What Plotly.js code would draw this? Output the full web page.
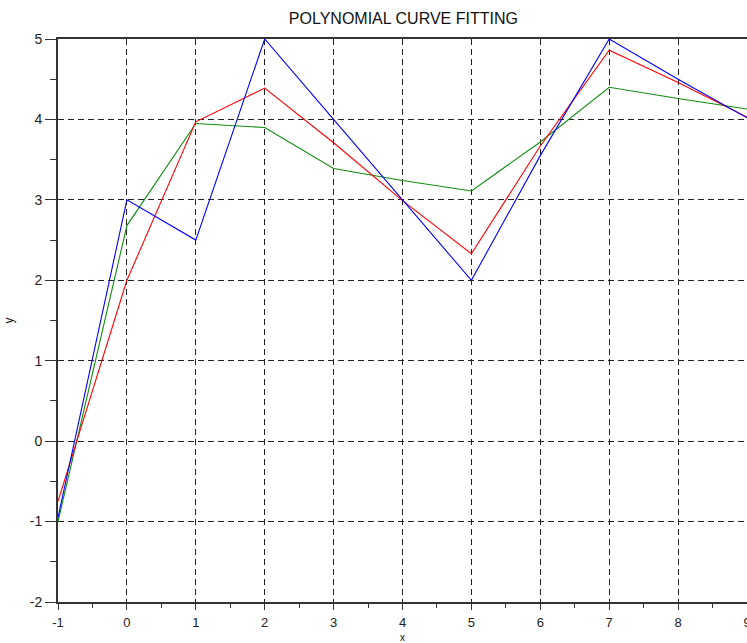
<!DOCTYPE html>
<html>
<head>
<meta charset="utf-8">
<script src="https://cdn.plot.ly/plotly-3.0.1.min.js"></script>
<style>html,body{margin:0;padding:0;background:#fff;}#chart{width:747px;height:643px;}</style>
</head>
<body>
<div id="chart"></div>
<script>
const xValues = [-1, 0, 1, 2, 3, 4, 5, 6, 7, 8, 9];
const blueY  = [-0.95, 3.0, 2.5, 5.0, 4.0, 3.0, 2.0, 3.55, 5.0, 4.5, 4.02];
const redY   = [-0.75, 2.0, 3.97, 4.39, 3.71, 2.99, 2.33, 3.67, 4.86, 4.46, 4.03];
const greenY = [-1.0, 2.68, 3.95, 3.9, 3.39, 3.24, 3.11, 3.72, 4.4, 4.26, 4.13];
const xTicks = [-1, 0, 1, 2, 3, 4, 5, 6, 7, 8, 9];
const yTicks = [-2, -1, 0, 1, 2, 3, 4, 5];

const mk = (y, c) => ({x: xValues, y: y, type: 'scatter', mode: 'lines',
  line: {color: c, width: 1.1}, hoverinfo: 'skip', showlegend: false});

const data = [mk(greenY, '#108c10'), mk(redY, '#ff0000'), mk(blueY, '#0000ff')];

const FONT = 'Liberation Sans, Arial, sans-serif';

const axisCommon = {
  showline: true, linecolor: '#333', linewidth: 2, mirror: true,
  showgrid: true, gridcolor: '#222', griddash: '6px,4px', gridwidth: 1,
  zeroline: false, ticks: 'outside', tickwidth: 1, tickcolor: '#333',
  ticklabeloverflow: 'allow',
  tickfont: {family: FONT, size: 14, color: '#222'}
};

const layout = {
  width: 747, height: 643,
  margin: {l: 58, r: 0, t: 39, b: 41},
  paper_bgcolor: '#fff', plot_bgcolor: '#fff',
  title: {text: 'POLYNOMIAL CURVE FITTING', x: 0.54, xanchor: 'center', y: 0.972, yanchor: 'middle',
    font: {family: FONT, size: 16, color: '#111'}},
  xaxis: Object.assign({}, axisCommon, {
    range: [-1, 9], tickvals: xTicks, ticktext: xTicks.map(String),
    ticklen: 6, ticklabelstandoff: 1,
    tickfont: {family: FONT, size: 13, color: '#222'},
    minor: {ticks: 'outside', ticklen: 4, tickwidth: 1, tickcolor: '#333', showgrid: false, dtick: 0.5},
    title: {text: 'x', standoff: 7, font: {family: FONT, size: 10, color: '#111'}}
  }),
  yaxis: Object.assign({}, axisCommon, {
    range: [-2, 5], tickvals: yTicks, ticktext: yTicks.map(String),
    ticklen: 11,
    minor: {ticks: 'outside', ticklen: 6, tickwidth: 1, tickcolor: '#333', showgrid: false, dtick: 0.5},
    title: {text: 'y', standoff: 14, font: {family: FONT, size: 12, color: '#111'}}
  })
};

Plotly.newPlot('chart', data, layout, {staticPlot: true, displayModeBar: false});
</script>
</body>
</html>
